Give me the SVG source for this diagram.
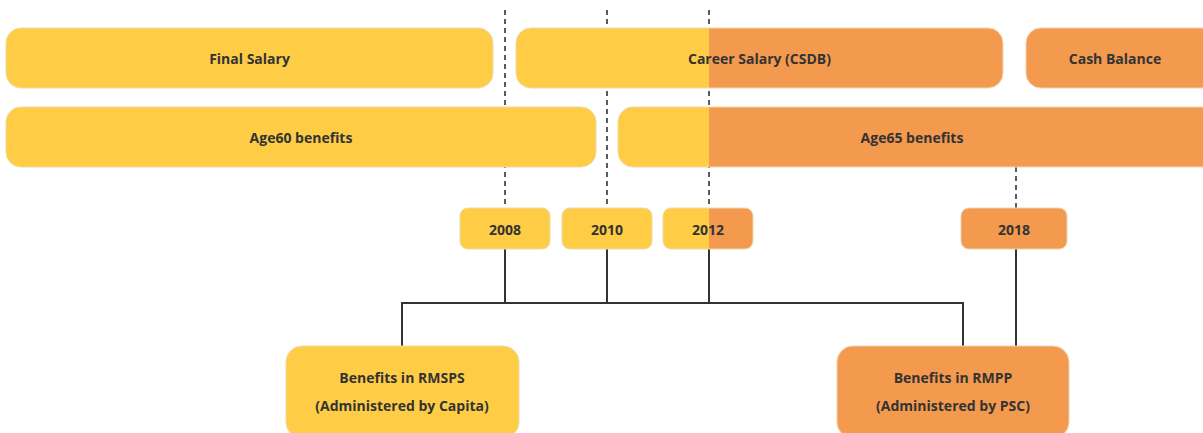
<svg xmlns="http://www.w3.org/2000/svg" width="1203" height="433" viewBox="0 0 1203 433">
<style>
.y{fill:#FECD45;stroke:#EFD9A8;stroke-width:1}
.o{fill:#F39A4E;stroke:#EFD0B0;stroke-width:1}
.s{fill:url(#split);stroke:#EFD9A8;stroke-width:1}
.t{font-family:"Open Sans","Liberation Sans",sans-serif;font-weight:700;font-size:14px;fill:#333;text-anchor:middle;dominant-baseline:central}
.dash{stroke:#333;stroke-width:1.6;stroke-dasharray:5 4;fill:none}
.line{stroke:#333;stroke-width:2;fill:none}
</style>
<defs>
<linearGradient id="split" gradientUnits="userSpaceOnUse" x1="0" y1="0" x2="1203" y2="0">
<stop offset="0.58936" stop-color="#FECD45"/>
<stop offset="0.58936" stop-color="#F39A4E"/>
</linearGradient>
</defs>
<g id="connectors">
<line class="dash" x1="505" y1="10" x2="505" y2="208"/>
<line class="dash" x1="607" y1="10" x2="607" y2="208"/>
<line class="dash" x1="709" y1="10" x2="709" y2="208"/>
<line class="dash" x1="1016" y1="167" x2="1016" y2="208"/>
<line class="line" x1="505" y1="249" x2="505" y2="303"/>
<line class="line" x1="607" y1="249" x2="607" y2="303"/>
<line class="line" x1="709" y1="249" x2="709" y2="303"/>
<polyline class="line" points="402,346 402,303 963,303 963,346"/>
<line class="line" x1="1016" y1="249" x2="1016" y2="346"/>
</g>
<g id="final-salary"><rect class="y" x="6" y="28" width="487" height="60" rx="15"/><text class="t" x="249.5" y="58">Final Salary</text></g>
<g id="career-salary"><rect class="s" x="516" y="28" width="487" height="60" rx="15"/><text class="t" x="759.5" y="58">Career Salary (CSDB)</text></g>
<g id="cash-balance"><rect class="o" x="1026" y="28" width="190" height="60" rx="15"/><text class="t" x="1115" y="58">Cash Balance</text></g>
<g id="age60"><rect class="y" x="6" y="107" width="590" height="60" rx="15"/><text class="t" x="301" y="137">Age60 benefits</text></g>
<g id="age65"><rect class="s" x="618" y="107" width="600" height="60" rx="15"/><text class="t" x="912" y="137">Age65 benefits</text></g>
<g id="y2008"><rect class="y" x="460" y="208" width="90" height="41" rx="8"/><text class="t" x="505" y="229">2008</text></g>
<g id="y2010"><rect class="y" x="562" y="208" width="90" height="41" rx="8"/><text class="t" x="607" y="229">2010</text></g>
<g id="y2012"><rect class="s" x="663" y="208" width="90" height="41" rx="8"/><text class="t" x="708" y="229">2012</text></g>
<g id="y2018"><rect class="o" x="961" y="208" width="106" height="41" rx="8"/><text class="t" x="1014" y="229">2018</text></g>
<g id="rmsps"><rect class="y" x="286" y="346" width="233" height="92" rx="16"/><text class="t" x="402" y="377">Benefits in RMSPS</text><text class="t" x="402" y="405">(Administered by Capita)</text></g>
<g id="rmpp"><rect class="o" x="837" y="346" width="232" height="92" rx="16"/><text class="t" x="953" y="377">Benefits in RMPP</text><text class="t" x="953" y="405">(Administered by PSC)</text></g>
</svg>
